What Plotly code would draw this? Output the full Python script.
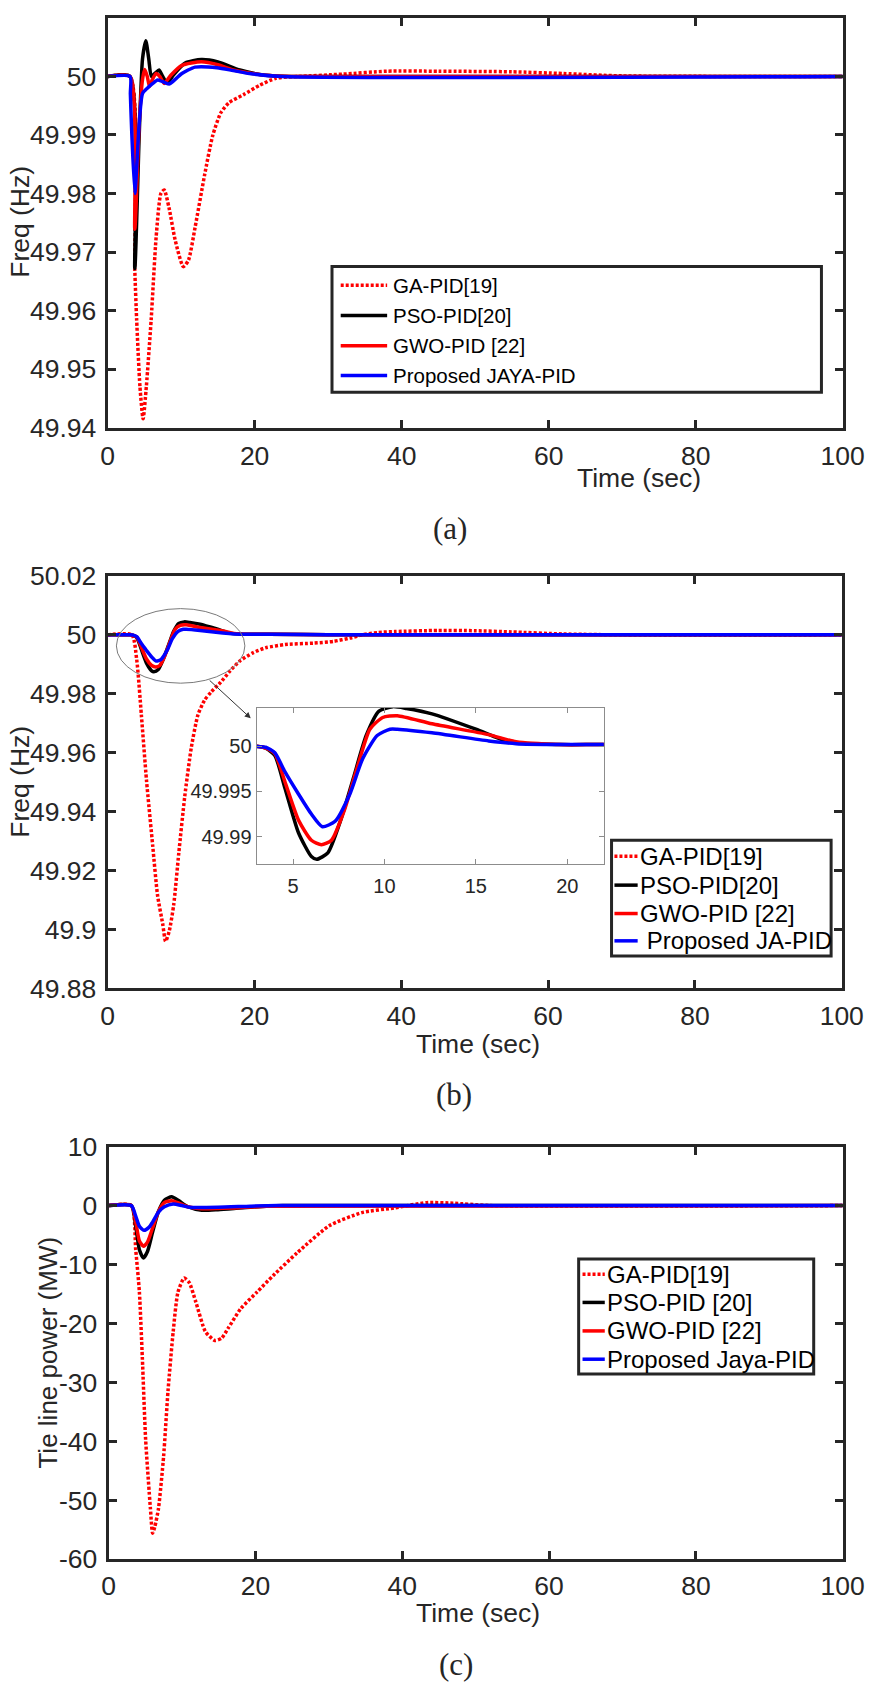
import plotly.graph_objects as go

W, H = 886, 1697

# ---------------- data ----------------
NAMES_A = ["GA-PID[19]", "PSO-PID[20]", "GWO-PID [22]", "Proposed JAYA-PID"]
NAMES_B = ["GA-PID[19]", "PSO-PID[20]", "GWO-PID [22]", "\u00a0Proposed JA-PID"]
NAMES_C = ["GA-PID[19]", "PSO-PID [20]", "GWO-PID [22]", "Proposed Jaya-PID"]

# (a) frequency
A_T_GA = [0, 3.05, 3.7, 3.95, 4.4, 4.83, 5.27, 5.93, 6.6, 7.25, 7.7, 8.35, 9.2, 10.3, 11.0, 11.9,
          13.2, 14.3, 15.4, 16.5, 18.5, 20.7, 22.9, 26, 32, 38, 45, 55, 62, 70, 100]
A_GA = [50, 50, 49.967, 49.9585, 49.947, 49.9415, 49.947, 49.9585, 49.9725, 49.98, 49.9806, 49.9776,
        49.972, 49.9675, 49.9686, 49.9742, 49.9832, 49.9899, 49.9938, 49.9955, 49.9969, 49.9985,
        49.9997, 50.0, 50.0004, 50.0009, 50.0009, 50.0008, 50.0005, 50.0001, 50.0]
A_T_PSO = [0, 3.05, 3.7, 4.3, 4.75, 5.2, 5.6, 5.95, 6.5, 7.0, 7.5, 8.1, 9.0, 10.55, 12.75, 15, 18, 21.5, 25, 100]
A_PSO = [50, 50, 49.9672, 49.990, 50.003, 50.0061, 50.003, 50.0, 50.0006, 50.0011, 50.0, 49.9988,
         50.0003, 50.0023, 50.0029, 50.0025, 50.0011, 50.0002, 50.0, 50.0]
A_T_GWO = [0, 3.05, 3.7, 4.3, 4.75, 5.05, 5.4, 5.7, 6.1, 6.6, 7.1, 7.7, 8.6, 10.1, 12.75, 15, 17.1, 21.5, 25, 100]
A_GWO = [50, 50, 49.9739, 49.992, 49.9995, 50.0012, 50.0, 49.9983, 49.9995, 50.0005, 50.0, 49.9988,
         50.0002, 50.0019, 50.0025, 50.002, 50.0011, 50.0002, 50.0, 50.0]
A_T_JAYA = [0, 3.05, 3.1, 3.7, 4.3, 4.75, 5.4, 6.15, 6.8, 7.5, 8.35, 9.2, 10.1, 11.9, 14.9, 17.1, 19.3, 23.7, 100]
A_JAYA = [50, 50, 49.997, 49.98, 49.992, 49.9971, 49.998, 49.9988, 49.9994, 49.9991, 49.9987, 49.9995,
          50.0005, 50.0016, 50.0015, 50.001, 50.0005, 50.0, 50.0]

# (b) frequency
B_T_GA = [0, 3.3, 3.96, 4.6, 5.3, 6.15, 6.8, 7.5, 7.9, 8.4, 9.0, 9.7, 10.5, 11.4, 12.3, 13.2, 14.1,
          15.4, 16.7, 18.0, 19.8, 21.5, 24.2, 28.1, 30.8, 33, 34.7, 36.9, 39.1, 45, 50, 55, 62, 70, 100]
B_GA = [50, 50, 49.9917, 49.9728, 49.9506, 49.9283, 49.9117, 49.902, 49.896, 49.8995, 49.9083, 49.926,
        49.945, 49.9617, 49.9728, 49.9778, 49.9806, 49.9839, 49.9878, 49.9911, 49.9939, 49.9956,
        49.9967, 49.9972, 49.9978, 49.9989, 50.0, 50.0008, 50.0011, 50.0015, 50.0014, 50.001,
        50.0003, 50.0, 50.0]
B_T_PSO = [0, 3.0, 3.5, 4.0, 4.55, 5.3, 6.0, 6.3, 6.9, 7.6, 8.3, 9.0, 9.7, 10.45, 11.2, 12.6, 15.0,
           16.8, 19.6, 22, 30, 100]
B_PSO = [50, 50, 49.9998, 49.999, 49.9954, 49.9904, 49.9878, 49.9875, 49.9882, 49.9918, 49.9965,
         50.0012, 50.0039, 50.0044, 50.0042, 50.0036, 50.0019, 50.0005, 50.0002, 50.0002, 50.0, 50.0]
B_T_GWO = [0, 3.0, 3.5, 4.0, 4.55, 5.3, 6.0, 6.55, 7.1, 7.8, 8.5, 9.2, 9.9, 10.7, 12.6, 15.7, 17.2,
           19.6, 22, 30, 100]
B_GWO = [50, 50, 49.9998, 49.9992, 49.9961, 49.9918, 49.9896, 49.9891, 49.9896, 49.9929, 49.9976,
         50.0019, 50.0032, 50.0034, 50.0025, 50.0013, 50.0005, 50.0002, 50.0002, 50.0, 50.0]
B_T_JAYA = [0, 3.0, 3.5, 4.0, 4.55, 5.3, 6.0, 6.6, 7.3, 8.1, 8.8, 9.6, 10.3, 10.7, 12.6, 15.7, 17.2,
            19.6, 22, 30, 100]
B_JAYA = [50, 50, 49.9999, 49.9993, 49.9972, 49.9947, 49.9925, 49.9911, 49.9917, 49.9947, 49.9986,
          50.0012, 50.0019, 50.0019, 50.0015, 50.0006, 50.0003, 50.0002, 50.0002, 50.0, 50.0]

# (c) tie-line power
C_T_GA = [0, 3.1, 3.7, 4.2, 4.6, 5.05, 5.7, 6.0, 6.3, 6.8, 7.5, 8.1, 8.8, 9.45, 10.3, 11.0, 11.9,
          13.2, 14.5, 15.4, 16.3, 18.0, 20.2, 22.4, 25.7, 30.1, 34.5, 38.9, 43.3, 47, 52, 100]
C_GA = [0, 0, -7.5, -14.7, -25.8, -39.7, -51.4, -55.6, -54.5, -51.4, -42.5, -31.4, -21.4, -14.7,
        -12.3, -13.1, -16.4, -21.4, -22.9, -22.5, -20.8, -17.5, -14.7, -11.9, -8.0, -3.4, -1.2,
        -0.4, 0.5, 0.4, 0, 0]
C_T_PSO = [0, 3.1, 3.7, 4.2, 4.75, 5.3, 6.0, 6.8, 7.6, 8.6, 9.6, 10.8, 12.7, 14.9, 17.1, 19.3, 23.7, 100]
C_PSO = [0, 0, -3.5, -7.5, -8.9, -7.8, -4.5, -1.0, 0.9, 1.5, 0.8, -0.2, -0.8, -0.7, -0.5, -0.28, 0, 0]
C_T_GWO = [0, 3.1, 3.7, 4.2, 4.75, 5.3, 6.0, 6.8, 7.6, 8.6, 9.6, 10.8, 12.7, 17.1, 21.5, 100]
C_GWO = [0, 0, -2.8, -6.0, -6.9, -6.2, -3.8, -1.0, 0.5, 0.83, 0.4, -0.2, -0.55, -0.4, -0.1, 0]
C_T_JAYA = [0, 3.1, 3.7, 4.2, 4.83, 5.5, 6.0, 6.8, 7.6, 8.8, 10.0, 11.0, 14.9, 19.3, 23, 100]
C_JAYA = [0, 0, -1.8, -3.5, -4.2, -3.7, -2.8, -1.1, -0.2, 0.28, 0.0, -0.28, -0.28, -0.1, 0, 0]

X_TICKS = [0, 20, 40, 60, 80, 100]
A_YTICKS = [49.94, 49.95, 49.96, 49.97, 49.98, 49.99, 50]
A_YTEXT = ["49.94", "49.95", "49.96", "49.97", "49.98", "49.99", "50"]
B_YTICKS = [49.88, 49.9, 49.92, 49.94, 49.96, 49.98, 50, 50.02]
B_YTEXT = ["49.88", "49.9", "49.92", "49.94", "49.96", "49.98", "50", "50.02"]
C_YTICKS = [-60, -50, -40, -30, -20, -10, 0, 10]
C_YTEXT = ["-60", "-50", "-40", "-30", "-20", "-10", "0", "10"]
INSET_XTICKS = [5, 10, 15, 20]
INSET_YTICKS = [49.99, 49.995, 50]
INSET_YTEXT = ["49.99", "49.995", "50"]

# ---------------- styles ----------------
AX = "#262626"
FONT = "Liberation Sans, Arial, sans-serif"
STYLES = [dict(color="#FF0000", dash="3px,2px"),
          dict(color="#000000", dash="solid"),
          dict(color="#FF0000", dash="solid"),
          dict(color="#0000FF", dash="solid")]
LW = 3.5


def px(x):
    return x / W


def py(y):
    return 1 - y / H


fig = go.Figure()

panels = [
    ("x", "y", [(A_T_GA, A_GA), (A_T_PSO, A_PSO), (A_T_GWO, A_GWO), (A_T_JAYA, A_JAYA)]),
    ("x2", "y2", [(B_T_GA, B_GA), (B_T_PSO, B_PSO), (B_T_GWO, B_GWO), (B_T_JAYA, B_JAYA)]),
    ("x3", "y3", [(C_T_GA, C_GA), (C_T_PSO, C_PSO), (C_T_GWO, C_GWO), (C_T_JAYA, C_JAYA)]),
    ("x4", "y4", [(B_T_PSO, B_PSO), (B_T_GWO, B_GWO), (B_T_JAYA, B_JAYA)]),
]
for xa, ya, series in panels:
    styles = STYLES if len(series) == 4 else STYLES[1:]
    for (t, v), st in zip(series, styles):
        fig.add_trace(go.Scatter(x=t, y=v, xaxis=xa, yaxis=ya, mode="lines",
                                 line=dict(color=st["color"], dash=st["dash"], width=LW,
                                           shape="spline", smoothing=0.6),
                                 showlegend=False, hoverinfo="skip"))


def main_axis(domain, rng, tickvals, ticktext=None, anchor=None, standoff=0):
    d = dict(domain=domain, range=rng, tickmode="array", tickvals=tickvals,
             showline=True, linewidth=3, linecolor=AX, mirror="allticks",
             ticks="inside", ticklen=8, tickwidth=2.5, tickcolor=AX,
             showgrid=False, zeroline=False, ticklabelstandoff=standoff,
             tickfont=dict(family=FONT, size=26.5, color=AX), anchor=anchor)
    if ticktext is not None:
        d["ticktext"] = ticktext
    return d


XD_A = [px(104), px(864)]
XD_B = [px(104), px(863)]
XD_C = [px(105), px(864)]
YD_A = [py(420), py(3)]
YD_B = [py(991), py(571)]
YD_C = [py(1572), py(1152)]

fig.update_layout(
    width=W, height=H, margin=dict(l=0, r=0, t=0, b=0),
    paper_bgcolor="white", plot_bgcolor="white",
    xaxis=main_axis(XD_A, [0, 100], X_TICKS, anchor="y", standoff=3),
    yaxis=main_axis(YD_A, [49.94, 50.01], A_YTICKS, A_YTEXT, anchor="x", standoff=3),
    xaxis2=main_axis(XD_B, [0, 100], X_TICKS, anchor="y2", standoff=2),
    yaxis2=main_axis(YD_B, [49.88, 50.02], B_YTICKS, B_YTEXT, anchor="x2", standoff=3),
    xaxis3=main_axis(XD_C, [0, 100], X_TICKS, anchor="y3", standoff=1),
    yaxis3=main_axis(YD_C, [-60, 10], C_YTICKS, C_YTEXT, anchor="x3", standoff=3),
    xaxis4=dict(domain=[px(258), px(617)], range=[3, 22], anchor="y4",
                tickmode="array", tickvals=INSET_XTICKS,
                showline=True, linewidth=1, linecolor="#8c8c8c", mirror="allticks",
                ticks="inside", ticklen=5, tickwidth=1, tickcolor="#8c8c8c",
                showgrid=False, zeroline=False, ticklabelstandoff=4,
                tickfont=dict(family=FONT, size=20, color=AX)),
    yaxis4=dict(domain=[py(864), py(705)], range=[49.987, 50.0043], anchor="x4",
                tickmode="array", tickvals=INSET_YTICKS, ticktext=INSET_YTEXT,
                showline=True, linewidth=1, linecolor="#8c8c8c", mirror="allticks",
                ticks="inside", ticklen=5, tickwidth=1, tickcolor="#8c8c8c",
                showgrid=False, zeroline=False,
                tickfont=dict(family=FONT, size=20, color=AX)),
)

shapes = []
annotations = []

# ellipse and arrow in panel (b)
shapes.append(dict(type="circle", xref="x2", yref="y2", x0=1.2, x1=18.7, y0=49.9836, y1=50.0089,
                   line=dict(color="#7a7a7a", width=1)))
annotations.append(dict(xref="x2", yref="y2", axref="x2", ayref="y2", x=19.5, y=49.9717,
                        ax=13.7, ay=49.985, text="", showarrow=True, arrowhead=2,
                        arrowsize=1.2, arrowwidth=1, arrowcolor="#333333"))


def add_legend(box, line_x, text_x, rows, labels, size):
    x0, y0, x1, y1 = box
    shapes.append(dict(type="rect", xref="paper", yref="paper", x0=px(x0), x1=px(x1),
                       y0=py(y1), y1=py(y0), line=dict(color=AX, width=3),
                       fillcolor="white", layer="above"))
    for st, ry, lab in zip(STYLES, rows, labels):
        shapes.append(dict(type="line", xref="paper", yref="paper", x0=px(line_x[0]), x1=px(line_x[1]),
                           y0=py(ry), y1=py(ry), line=dict(color=st["color"], width=LW, dash=st["dash"]),
                           layer="above"))
        annotations.append(dict(xref="paper", yref="paper", x=px(text_x), y=py(ry), text=lab,
                                showarrow=False, xanchor="left", yanchor="middle",
                                font=dict(family=FONT, size=size, color="#000000")))


add_legend((336, 256, 842, 384), (345, 393), 397, [275, 306, 336.8, 367], NAMES_A, 20.5)
add_legend((625, 840, 852, 958), (628, 652), 652, [856.3, 885.8, 914.7, 942.5], NAMES_B, 24)
add_legend((591, 1266.5, 834, 1383.5), (595, 618), 618, [1282, 1310.6, 1339.6, 1368.4], NAMES_C, 24)


def label(x, y, text, size, angle=0, family=FONT):
    annotations.append(dict(xref="paper", yref="paper", x=px(x), y=py(y), text=text,
                            showarrow=False, xanchor="center", yanchor="middle", textangle=angle,
                            font=dict(family=family, size=size, color=AX)))


label(653, 471, "Time (sec)", 26.5)
label(487, 1048, "Time (sec)", 26.5)
label(487, 1627, "Time (sec)", 26.5)
label(14, 211, "Freq (Hz)", 26.5, -90)
label(14, 781, "Freq (Hz)", 26.5, -90)
label(42, 1362, "Tie line power (MW)", 26, -90)
SERIF = "Liberation Serif, Times New Roman, serif"
label(458, 523, "(a)", 31, 0, SERIF)
label(462, 1099, "(b)", 31, 0, SERIF)
label(464, 1679, "(c)", 31, 0, SERIF)

fig.update_layout(shapes=shapes, annotations=annotations)
fig.write_html("out.html", config={"displayModeBar": False},
               post_script="document.body.style.margin='0';document.body.style.overflow='hidden';")
